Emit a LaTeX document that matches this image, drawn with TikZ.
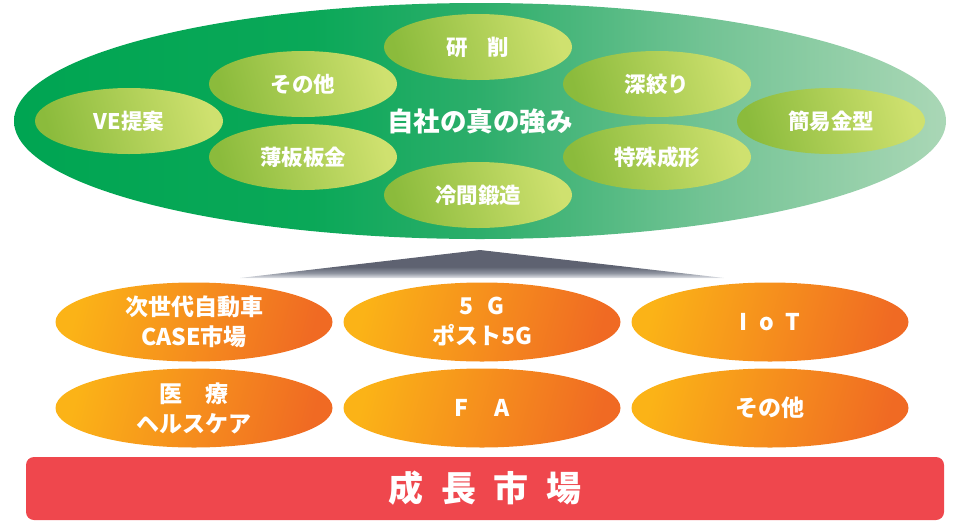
\documentclass[tikz,border=0pt]{standalone}
\usepackage{fontspec}
\setmainfont{Noto Sans CJK JP}
\usetikzlibrary{shapes.geometric}
\definecolor{gA}{HTML}{00A552}
\definecolor{gB}{HTML}{0AA858}
\definecolor{gC}{HTML}{2DAE6B}
\definecolor{gD}{HTML}{72C394}
\definecolor{gE}{HTML}{AAD7B6}
\definecolor{lgL}{HTML}{8BBB3C}
\definecolor{lgR}{HTML}{CFE16F}
\definecolor{orL}{HTML}{FBB317}
\definecolor{orR}{HTML}{F06A23}
\definecolor{tA}{HTML}{5E6271}
\definecolor{tB}{HTML}{8F94A0}
\definecolor{tC}{HTML}{E4E6EB}
\definecolor{barred}{HTML}{EF474D}
\pgfdeclarehorizontalshading{bigg}{100bp}{color(0bp)=(gA); color(25bp)=(gA); color(41bp)=(gB); color(50bp)=(gC); color(62bp)=(gD); color(75bp)=(gE); color(100bp)=(gE)}
\pgfdeclareverticalshading{tri}{100bp}{color(0bp)=(tC); color(25bp)=(tC); color(34bp)=(tB); color(45bp)=(tA); color(100bp)=(tA)}
\tikzset{
  gsm/.style={ellipse, inner sep=0pt, minimum width=188pt, minimum height=66pt,
    left color=lgL, right color=lgR, shading angle=105,
    text=white, font=\bfseries\fontsize{21.5}{24}\selectfont},
  osm/.style={ellipse, inner sep=0pt, minimum width=277pt, minimum height=79pt,
    left color=orL, right color=orR, shading angle=75,
    text=white, align=center, font=\bfseries\fontsize{23}{30}\selectfont},
}
\begin{document}
\begin{tikzpicture}[x=1pt,y=-1pt]
\useasboundingbox (0,0) rectangle (969,528);
% big ellipse
\node[ellipse, inner sep=0pt, minimum width=932pt, minimum height=236pt, shade, shading=bigg] (core) at (480,121) {};
\node[text=white, font=\bfseries\fontsize{26.5}{30}\selectfont] (coretext) at (480,121) {自社の真の強み};
% small green ellipses
\node[gsm] (ve) at (129,121) {VE提案};
\node[gsm] (sonota1) at (303,84) {その他};
\node[gsm] (hakuban) at (303,157) {薄板板金};
\node[gsm] (kensaku) at (478,47) {研\hspace{0.9em}削};
\node[gsm] (reikan) at (478,195) {冷間鍛造};
\node[gsm] (fukashibori) at (657,84) {深絞り};
\node[gsm] (tokushu) at (657,157) {特殊成形};
\node[gsm] (kanni) at (831,121) {簡易金型};
% connector triangle
\path[shade, shading=tri] (240,278) -- (480,250) -- (724,278) -- cycle;
% orange ellipses
\node[osm] (case) at (194,322) {次世代自動車\\CASE市場};
\node[osm] (fiveg) at (482,322) {5\hspace{0.6em}G\\ポスト5G};
\node[osm] (iot) at (770,322) {I\hspace{0.5em}o\hspace{0.5em}T};
\node[osm] (iryo) at (194,408) {医　療\\ヘルスケア};
\node[osm] (fa) at (482,408) {F\hspace{1.1em}A};
\node[osm] (sonota2) at (770,408) {その他};
% red bar
\node[rounded corners=8pt, fill=barred, minimum width=918pt, minimum height=63pt, inner sep=0pt,
  text=white, font=\bfseries\fontsize{35}{40}\selectfont] (bar) at (485,488.5)
  {成\hspace{0.5em}長\hspace{0.5em}市\hspace{0.5em}場};
\end{tikzpicture}
\end{document}
